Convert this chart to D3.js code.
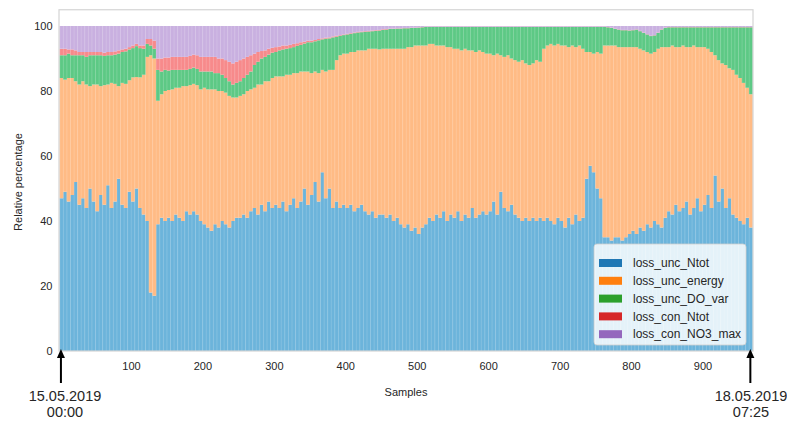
<!DOCTYPE html>
<html>
<head>
<meta charset="utf-8">
<style>
body { margin: 0; background: #fff; }
svg text { font-family: "Liberation Sans", Arial, sans-serif; fill: #262626; }
</style>
</head>
<body>
<svg id="chart" width="787" height="421"></svg>
<script src="https://cdn.jsdelivr.net/npm/d3@7"></script>
<script>
// one bar = 5 consecutive samples
var samplesPerBar = 5;

var seriesNames = ["loss_unc_Ntot", "loss_unc_energy", "loss_unc_DO_var", "loss_con_Ntot", "loss_con_NO3_max"];

var loss_unc_Ntot = [
  47, 49, 46, 48, 52, 45, 47, 44, 50, 46,
  43, 48, 45, 51, 44, 46, 53, 45, 44, 49,
  46, 50, 44, 42, 40, 18, 17, 39, 41, 40,
  41, 40, 42, 41, 40, 43, 42, 43, 42, 40,
  39, 38, 37, 39, 38, 40, 39, 38, 40, 41,
  41, 42, 41, 43, 44, 42, 45, 43, 46, 44,
  45, 44, 46, 43, 45, 47, 44, 46, 50, 45,
  48, 52, 46, 55, 47, 50, 44, 46, 44, 45,
  44, 45, 43, 44, 45, 43, 42, 43, 41, 42,
  42, 41, 42, 40, 41, 39, 38, 39, 37, 38,
  36, 38, 39, 41, 40, 42, 41, 43, 40, 42,
  41, 43, 40, 42, 41, 44, 41, 42, 43, 42,
  43, 46, 42, 49, 44, 43, 45, 42, 41, 40,
  41, 40, 41, 40, 41, 40, 41, 40, 39, 41,
  40, 38, 41, 39, 42, 40, 41, 53, 57, 55,
  50, 47, 35, 35, 34, 35, 35, 34, 35, 36,
  37, 36, 38, 37, 39, 38, 40, 39, 38, 41,
  43, 42, 45, 43, 44, 46, 42, 44, 47, 43,
  45, 48, 44, 54, 46, 50, 44, 47, 42, 41,
  40, 39, 41, 38
];

var loss_unc_energy = [
  37, 34.5, 38, 36, 31, 37, 36, 38, 31.5, 36,
  39, 33.5, 36.8, 31, 38.5, 36.2, 28.5, 37.5, 38.2, 34.3,
  38.2, 34.3, 40.2, 43, 50.5, 73, 73, 38, 38, 40,
  39.3, 40.5, 39, 40, 41.5, 38.5, 39.8, 39.2, 39.8, 40.5,
  42, 42.5, 43.5, 41.5, 42, 40, 40.5, 40.5, 38, 37,
  37.5, 37, 39, 37.5, 37, 40, 37, 40, 37, 40,
  39.5, 40.5, 38.5, 42, 40, 38.5, 41.5, 40, 36, 41,
  37.5, 34, 39.5, 31.5, 39, 36.5, 42.5, 43.5, 47, 46.5,
  47.5, 47, 49, 48.5, 47.5, 49.5, 51, 50, 52, 50.8,
  51, 52, 51, 53, 52, 54, 55, 54.5, 56.5, 56,
  58, 56, 55, 53.5, 54.5, 52, 53, 51, 53.5, 51.5,
  52, 50, 52.5, 51, 51.5, 48.5, 51, 50.5, 49, 49.5,
  48.5, 45, 49.5, 42, 46.5, 48, 45, 47.5, 48, 49.5,
  47.5, 48, 47.5, 49.5, 48, 53, 53, 54.5, 55, 53.5,
  54, 56, 52.5, 55, 51.5, 54, 52, 39, 35, 36.5,
  42, 44.5, 59, 59, 60, 59, 58.5, 59.5, 58.5, 57.5,
  56.5, 57.5, 55, 55.5, 53, 53.5, 52, 54, 55.5, 52.5,
  50.5, 52, 48.5, 50.5, 50, 47.5, 51.5, 50, 46.5, 50.5,
  48.5, 45, 48, 37, 43.5, 38.5, 44, 40, 44.5, 44,
  44, 43.5, 40, 41
];

var loss_unc_DO_var = [
  7, 7.5, 7.5, 7, 8, 9, 8, 8.5, 9.5, 9,
  9, 9.5, 9, 9, 8.5, 9, 10, 9.5, 10, 9.5,
  9, 9.5, 9, 8, 4, 3, 3, 9.5, 7, 6.5,
  6, 6, 5.5, 5.5, 5, 5, 5, 5, 5, 5.5,
  5, 5.5, 5.5, 5, 5.5, 5, 4.5, 4.5, 4, 4.5,
  4.5, 5, 5, 5.5, 7, 7, 8, 7.5, 8.2, 7.8,
  7.5, 8, 8.3, 8, 8.2, 8, 8.4, 8.2, 8.6, 9,
  9.5, 9.3, 10.1, 9.4, 10.1, 9.7, 10, 7.2, 6, 5.7,
  5.9, 5.6, 5.8, 5.5, 5.6, 5.7, 5.3, 5.4, 5.5, 5.8,
  5.8, 5.9, 6.1, 6.1, 6.2, 6.2, 6.3, 5.8, 5.9, 5.4,
  5.5, 5.6, 5.7, 5.2, 5.2, 5.7, 5.7, 5.7, 6.2, 6.2,
  6.7, 6.7, 7.2, 6.7, 7.2, 7.2, 7.7, 7.2, 7.7, 8.2,
  8.2, 8.7, 8.2, 8.7, 9.2, 8.7, 9.7, 10.2, 10.7, 10.2,
  11.2, 11.7, 11.2, 10.2, 10.7, 6.7, 5.7, 5.2, 5.7, 5.2,
  5.7, 5.7, 6.2, 5.7, 6.2, 5.7, 6.7, 7.7, 7.7, 8.2,
  7.7, 8.2, 5.7, 5.6, 5.4, 5.1, 5.4, 5.2, 5.2, 5.1,
  5.2, 5.4, 5.4, 5.4, 5.4, 5.4, 5.1, 4.9, 5.4, 5.9,
  6.1, 5.6, 6.1, 6.1, 5.6, 6.1, 6.1, 5.6, 6.1, 6.1,
  6.1, 6.6, 7.6, 8.6, 10.1, 11.1, 11.6, 12.6, 13.1, 14.6,
  15.6, 17.1, 18.6, 20.6
];

var loss_con_Ntot = [
  2, 2, 1.3, 1.8, 1.5, 1, 1, 1.5, 1, 1,
  1, 1, 1, 1, 1, 1, 1, 0.8, 0.8, 0.7,
  0.8, 0.7, 0.8, 1, 1.5, 2, 2.5, 3.5, 4, 3.8,
  4, 4, 4, 4, 4, 4, 4, 4, 4.2, 4.5,
  4.5, 4.5, 4.5, 5, 4.5, 5, 5.5, 6, 6.5, 6.5,
  6.5, 6, 5.5, 5, 3.5, 3, 2.3, 2, 1.8, 1.5,
  1.5, 1.2, 1.2, 1, 1, 1, 0.8, 0.8, 0.6, 0.5,
  0.5, 0.4, 0.4, 0.3, 0.3, 0.3, 0.3, 0.3, 0.2, 0.2,
  0.2, 0.2, 0.2, 0.2, 0.2, 0.2, 0.2, 0.2, 0.2, 0.2,
  0.2, 0.2, 0.1, 0.1, 0.1, 0.1, 0.1, 0.1, 0.1, 0.1,
  0.1, 0.1, 0.1, 0.1, 0.1, 0.1, 0.1, 0.1, 0.1, 0.1,
  0.1, 0.1, 0.1, 0.1, 0.1, 0.1, 0.1, 0.1, 0.1, 0.1,
  0.1, 0.1, 0.1, 0.1, 0.1, 0.1, 0.1, 0.1, 0.1, 0.1,
  0.1, 0.1, 0.1, 0.1, 0.1, 0.1, 0.1, 0.1, 0.1, 0.1,
  0.1, 0.1, 0.1, 0.1, 0.1, 0.1, 0.1, 0.1, 0.1, 0.1,
  0.1, 0.1, 0.1, 0.1, 0.1, 0.1, 0.1, 0.1, 0.1, 0.1,
  0.1, 0.1, 0.1, 0.1, 0.1, 0.1, 0.1, 0.1, 0.1, 0.1,
  0.1, 0.1, 0.1, 0.1, 0.1, 0.1, 0.1, 0.1, 0.1, 0.1,
  0.1, 0.1, 0.1, 0.1, 0.1, 0.1, 0.1, 0.1, 0.1, 0.1,
  0.1, 0.1, 0.1, 0.1
];

var loss_con_NO3_max = [
  7, 7, 7.2, 7.2, 7.5, 8, 8, 8, 8, 8,
  8, 8, 8.2, 8, 8, 7.8, 7.5, 7.2, 7, 6.5,
  6, 5.5, 6, 6, 4, 4, 4.5, 10, 10, 9.7,
  9.7, 9.5, 9.5, 9.5, 9.5, 9.5, 9.2, 8.8, 9, 9.5,
  9.5, 9.5, 9.5, 9.5, 10, 10, 10.5, 11, 11.5, 11,
  10.5, 10, 9.5, 9, 8.5, 8, 7.7, 7.5, 7, 6.7,
  6.5, 6.3, 6, 6, 5.8, 5.5, 5.3, 5, 4.8, 4.5,
  4.5, 4.3, 4, 3.8, 3.6, 3.5, 3.2, 3, 2.8, 2.6,
  2.4, 2.2, 2, 1.8, 1.7, 1.6, 1.5, 1.4, 1.3, 1.2,
  1, 0.9, 0.8, 0.8, 0.7, 0.7, 0.6, 0.6, 0.5, 0.5,
  0.4, 0.3, 0.2, 0.2, 0.2, 0.2, 0.2, 0.2, 0.2, 0.2,
  0.2, 0.2, 0.2, 0.2, 0.2, 0.2, 0.2, 0.2, 0.2, 0.2,
  0.2, 0.2, 0.2, 0.2, 0.2, 0.2, 0.2, 0.2, 0.2, 0.2,
  0.2, 0.2, 0.2, 0.2, 0.2, 0.2, 0.2, 0.2, 0.2, 0.2,
  0.2, 0.2, 0.2, 0.2, 0.2, 0.2, 0.2, 0.2, 0.2, 0.2,
  0.2, 0.2, 0.2, 0.3, 0.5, 0.8, 1, 1.2, 1.2, 1.3,
  1.2, 1, 1.5, 2, 2.5, 3, 2.8, 2, 1, 0.5,
  0.3, 0.3, 0.3, 0.3, 0.3, 0.3, 0.3, 0.3, 0.3, 0.3,
  0.3, 0.3, 0.3, 0.3, 0.3, 0.3, 0.3, 0.3, 0.3, 0.3,
  0.3, 0.3, 0.3, 0.3
];

var yTicks = [0, 20, 40, 60, 80, 100];
var xTicks = [100, 200, 300, 400, 500, 600, 700, 800, 900];
var startLabel = ["15.05.2019", "00:00"];
var endLabel = ["18.05.2019", "07:25"];

var barColors = ["#6cb4db", "#ffbb85", "#5dc985", "#f78a8b", "#c9b0e0"];
var legendColors = ["#1f77b4", "#ff7f0e", "#2ca02c", "#d62728", "#9467bd"];

var columns = [loss_unc_Ntot, loss_unc_energy, loss_unc_DO_var, loss_con_Ntot, loss_con_NO3_max];
var rows = loss_unc_Ntot.map(function(v, i) {
  var row = { sample: i * samplesPerBar };
  seriesNames.forEach(function(k, j) { row[k] = columns[j][i]; });
  return row;
});
var nSamples = rows.length * samplesPerBar;

var svg = d3.select("#chart");
var margin = { left: 59.5, right: 787 - 752.5, top: 9.75, bottom: 421 - 351 };

var x = d3.scaleLinear().domain([0, nSamples]).range([margin.left, 787 - margin.right]);
var y = d3.scaleLinear().domain([0, 105]).range([421 - margin.bottom, margin.top]);

var stack = d3.stack().keys(seriesNames);
var layers = stack(rows);

var barW = x(samplesPerBar) - x(0);

svg.append("g")
  .selectAll("g")
  .data(layers)
  .join("g")
    .attr("fill", function(d, i) { return barColors[i]; })
  .selectAll("rect")
  .data(function(d) { return d; })
  .join("rect")
    .attr("x", function(d) { return x(d.data.sample); })
    .attr("width", barW + 0.3)
    .attr("y", function(d) { return y(d[1]); })
    .attr("height", function(d) { return y(d[0]) - y(d[1]); });

// faint light seams between the bars
svg.append("g")
  .selectAll("line")
  .data(rows)
  .join("line")
    .attr("x1", function(d) { return x(d.sample) + 0.3; })
    .attr("x2", function(d) { return x(d.sample) + 0.3; })
    .attr("y1", y(0))
    .attr("y2", y(100))
    .attr("stroke", "#fff")
    .attr("stroke-opacity", 0.2)
    .attr("stroke-width", 0.8);

// axes frame
svg.append("rect")
  .attr("x", x(0) - 0.5)
  .attr("y", y(105))
  .attr("width", x(nSamples) - x(0) + 1)
  .attr("height", y(0) - y(105))
  .attr("fill", "none")
  .attr("stroke", "#d4d4d4")
  .attr("stroke-width", 1.2);

var yAxis = svg.append("g")
  .attr("transform", "translate(" + margin.left + ",0)")
  .call(d3.axisLeft(y).tickValues(yTicks).tickSize(0).tickPadding(7));
yAxis.select(".domain").remove();
yAxis.selectAll("text").style("font-size", "11px").style("font-family", "'Liberation Sans', Arial, sans-serif").attr("fill", "#262626");

var xAxis = svg.append("g")
  .attr("transform", "translate(0," + y(0) + ")")
  .call(d3.axisBottom(x).tickValues(xTicks).tickSize(0).tickPadding(11));
xAxis.select(".domain").remove();
xAxis.selectAll("text").style("font-size", "11px").style("font-family", "'Liberation Sans', Arial, sans-serif").attr("fill", "#262626");

svg.append("text")
  .attr("transform", "translate(18," + y(52) + ") rotate(-90)")
  .attr("text-anchor", "middle")
  .attr("dy", "0.35em")
  .style("font-size", "11px")
  .text("Relative percentage");

svg.append("text")
  .attr("x", (x(0) + x(nSamples)) / 2)
  .attr("y", 396)
  .attr("text-anchor", "middle")
  .style("font-size", "11px")
  .text("Samples");

// legend
var legend = svg.append("g").attr("transform", "translate(594,244)");
legend.append("rect")
  .attr("width", 152)
  .attr("height", 101)
  .attr("rx", 3)
  .attr("fill", "#fff")
  .attr("fill-opacity", 0.82)
  .attr("stroke", "#cfcfcf")
  .attr("stroke-width", 0.8);
var entries = legend.selectAll("g.entry")
  .data(seriesNames)
  .join("g")
    .attr("class", "entry")
    .attr("transform", function(d, i) { return "translate(5," + (19 + i * 17.8) + ")"; });
entries.append("rect")
  .attr("y", -4)
  .attr("width", 23)
  .attr("height", 8)
  .attr("fill", function(d, i) { return legendColors[i]; });
entries.append("text")
  .attr("x", 34)
  .attr("dy", "0.35em")
  .style("font-size", "12px")
  .text(function(d) { return d; });

// date arrows below both ends of the axis
function dateMarker(sample, cx, lines) {
  var ax = x(sample);
  svg.append("line")
    .attr("x1", ax).attr("x2", ax)
    .attr("y1", 383).attr("y2", 357)
    .attr("stroke", "#000")
    .attr("stroke-width", 2);
  svg.append("path")
    .attr("d", "M" + ax + ",349L" + (ax - 4) + ",358L" + (ax + 4) + ",358Z")
    .attr("fill", "#000");
  svg.append("text")
    .attr("x", cx).attr("y", 401)
    .attr("text-anchor", "middle")
    .style("font-size", "14.5px")
    .attr("fill", "#111")
    .text(lines[0]);
  svg.append("text")
    .attr("x", cx).attr("y", 417)
    .attr("text-anchor", "middle")
    .style("font-size", "14.5px")
    .attr("fill", "#111")
    .text(lines[1]);
}
dateMarker(2, 65, startLabel);
dateMarker(967, 751, endLabel);
</script>
</body>
</html>
